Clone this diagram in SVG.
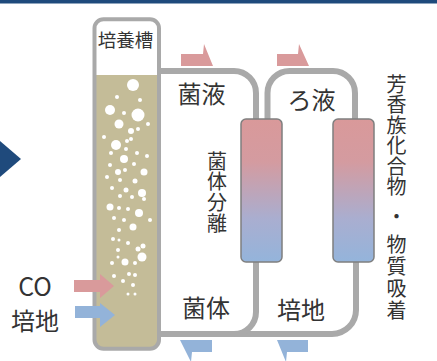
<svg xmlns="http://www.w3.org/2000/svg" width="437" height="361" viewBox="0 0 437 361">
  <defs>
    <linearGradient id="colGrad" x1="0" y1="0" x2="0" y2="1">
      <stop offset="0" stop-color="#d9999a"/>
      <stop offset="0.3" stop-color="#d49ba0"/>
      <stop offset="0.7" stop-color="#a9aed0"/>
      <stop offset="1" stop-color="#94b4db"/>
    </linearGradient>
    <clipPath id="tankClip">
      <rect x="94.5" y="19.3" width="64.5" height="329.4" rx="9" ry="9"/>
    </clipPath>
  </defs>
  <style>
    .pipe { fill: none; stroke: #a9a9a9; stroke-width: 6; }
    .col { fill: url(#colGrad); stroke: #7f7f7f; stroke-width: 1.5; }
    .lbl { font-family: "Noto Sans CJK JP", "Noto Sans", sans-serif; fill: #333333; text-anchor: middle; }
    .vert { font-family: "Noto Sans CJK JP", sans-serif; fill: #333333; font-size: 20px; writing-mode: vertical-rl; text-anchor: start; }
    .pink { fill: #d99a9b; }
    .blue { fill: #93b3d9; }
    .bub { fill: #ffffff; }
  </style>

  <!-- header band and pointer -->
  <rect x="0" y="0" width="437" height="3.5" fill="#1f4a7c"/>
  <polygon points="0,141 21,159 0,177" fill="#1f4a7c"/>

  <!-- piping -->
  <g id="connectors">
    <path class="pipe" d="M160,71 H234 A22,22 0 0 1 256,93 V121"/>
    <path class="pipe" d="M267.5,121 V93 A22,22 0 0 1 289.5,71 H333 A22,22 0 0 1 355,93 V121"/>
    <path class="pipe" d="M160,334 H332 A24,24 0 0 0 356,310 V260"/>
    <path class="pipe" d="M256,260 V312 A22,22 0 0 1 234,334 H220"/>
  </g>

  <!-- flow arrows along the piping -->
  <g id="flow-arrows">
    <polygon class="pink" points="181,54 203,54 204,44 213,66 181,66"/>
    <polygon class="pink" points="277,54 298,54 299,44 309,66 277,66"/>
    <polygon class="blue" points="180,340 212,340 212,352 192,352 191,362"/>
    <polygon class="blue" points="277,340 308,340 308,352 287,352 286,362"/>
  </g>

  <!-- culture tank -->
  <g id="tank">
    <rect x="94.5" y="19.3" width="64.5" height="329.4" rx="9" ry="9" fill="#ffffff"/>
    <g clip-path="url(#tankClip)">
      <rect x="90" y="75" width="75" height="280" fill="#c4bc98"/>
      <g class="bub">
        <circle cx="133" cy="85" r="6"/>
        <circle cx="117" cy="97" r="2"/>
        <circle cx="140" cy="100" r="2"/>
        <circle cx="110" cy="110" r="5"/>
        <circle cx="124" cy="113" r="2"/>
        <circle cx="138" cy="115" r="6.5"/>
        <circle cx="119" cy="124" r="4.5"/>
        <circle cx="148" cy="124" r="2"/>
        <circle cx="131" cy="131" r="3"/>
        <circle cx="138" cy="129" r="2"/>
        <circle cx="104" cy="137" r="2"/>
        <circle cx="131" cy="139" r="2"/>
        <circle cx="127" cy="141" r="2"/>
        <circle cx="116" cy="145" r="5"/>
        <circle cx="126" cy="149" r="2"/>
        <circle cx="111" cy="153" r="2"/>
        <circle cx="137" cy="153" r="2"/>
        <circle cx="147" cy="156" r="2"/>
        <circle cx="124" cy="159" r="4"/>
        <circle cx="110" cy="165" r="2"/>
        <circle cx="134" cy="164" r="2"/>
        <circle cx="118" cy="172" r="3"/>
        <circle cx="144" cy="172" r="3.5"/>
        <circle cx="125" cy="170" r="2"/>
        <circle cx="107" cy="177" r="2"/>
        <circle cx="120" cy="180" r="2"/>
        <circle cx="135" cy="181" r="2.5"/>
        <circle cx="112" cy="188" r="2"/>
        <circle cx="126" cy="190" r="2.5"/>
        <circle cx="142" cy="193" r="4"/>
        <circle cx="120" cy="196" r="2"/>
        <circle cx="132" cy="197" r="2"/>
        <circle cx="144" cy="199" r="2"/>
        <circle cx="110" cy="207" r="3.5"/>
        <circle cx="119" cy="208" r="2"/>
        <circle cx="128" cy="209" r="2"/>
        <circle cx="139" cy="213" r="4"/>
        <circle cx="114" cy="218" r="2"/>
        <circle cx="124" cy="220" r="2"/>
        <circle cx="150" cy="220" r="2"/>
        <circle cx="133" cy="227" r="3.5"/>
        <circle cx="119" cy="230" r="2"/>
        <circle cx="113" cy="239" r="2"/>
        <circle cx="119" cy="240" r="1.5"/>
        <circle cx="128" cy="243" r="2"/>
        <circle cx="143" cy="246" r="2.5"/>
        <circle cx="138" cy="249" r="2.5"/>
        <circle cx="118" cy="250" r="2"/>
        <circle cx="118" cy="257" r="1.5"/>
        <circle cx="142" cy="257" r="4.5"/>
        <circle cx="125" cy="262" r="3.5"/>
        <circle cx="112" cy="263" r="2"/>
        <circle cx="135" cy="263" r="2"/>
        <circle cx="129" cy="274" r="2"/>
        <circle cx="135" cy="275" r="2"/>
        <circle cx="114" cy="276" r="2"/>
        <circle cx="123" cy="281" r="2"/>
        <circle cx="133" cy="285" r="2"/>
        <circle cx="128" cy="294" r="1.5"/>
        <circle cx="135" cy="294" r="1.5"/>
      </g>
    </g>
    <rect x="94.5" y="19.3" width="64.5" height="329.4" rx="9" ry="9" fill="none" stroke="#a9a9a9" stroke-width="4"/>
    <text class="lbl" x="125.5" y="47" font-size="18.5">培養槽</text>
  </g>

  <!-- inlet arrows into the tank -->
  <g id="inlet-arrows">
    <polygon class="pink" points="74,280 100,280 100,274 114,286 100,298 100,292 74,292"/>
    <polygon class="blue" points="75,306 100,306 100,303 115,315 100,327 100,318 75,318"/>
  </g>

  <!-- separation columns -->
  <g id="column-separation">
    <rect class="col" x="241" y="119" width="41" height="143" rx="5" ry="5"/>
  </g>
  <g id="column-adsorption">
    <rect class="col" x="333" y="119" width="41" height="143" rx="5" ry="5"/>
  </g>

  <!-- inlet labels -->
  <g id="inlet-co">
    <text class="lbl" x="35" y="295.5" font-size="25">CO</text>
  </g>
  <g id="inlet-medium">
    <text class="lbl" x="35" y="330" font-size="24">培地</text>
  </g>

  <!-- stream labels -->
  <g id="label-broth"><text class="lbl" x="201.5" y="102.5" font-size="24">菌液</text></g>
  <g id="label-filtrate"><text class="lbl" x="311.5" y="108.5" font-size="24">ろ液</text></g>
  <g id="label-cells"><text class="lbl" x="206" y="316.5" font-size="24">菌体</text></g>
  <g id="label-medium"><text class="lbl" x="301" y="318.5" font-size="24">培地</text></g>

  <!-- vertical captions -->
  <g id="label-separation">
    <text class="vert" x="217" y="151" letter-spacing="0.7">菌体分離</text>
  </g>
  <g id="label-adsorption">
    <text class="vert" x="396.5" y="74" letter-spacing="0.5">芳香族化合物</text>
    <text class="vert" x="396.5" y="206">・</text>
    <text class="vert" x="396.5" y="234" letter-spacing="2.3">物質吸着</text>
  </g>
</svg>
